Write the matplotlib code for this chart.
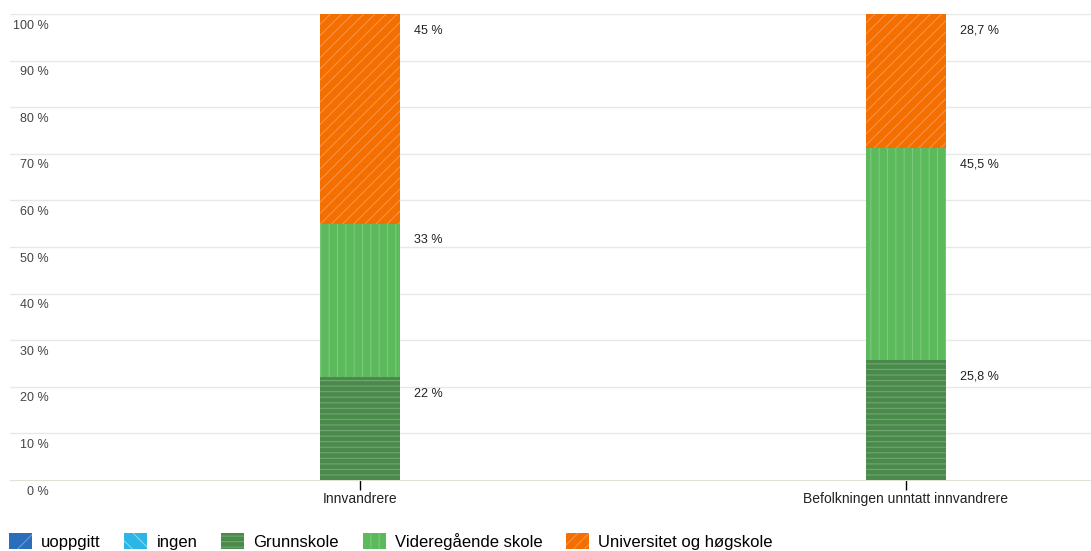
import matplotlib
matplotlib.use("Agg")
import matplotlib.pyplot as plt
from matplotlib.patches import Patch

plt.rcParams['font.family'] = ['Liberation Sans', 'DejaVu Sans']
plt.rcParams['hatch.linewidth'] = 0.8

# data
categories = ['Innvandrere', 'Befolkningen unntatt innvandrere']
series = ['uoppgitt', 'ingen', 'Grunnskole', 'Videregående skole', 'Universitet og høgskole']
values = {
    'uoppgitt': [0, 0],
    'ingen': [0, 0],
    'Grunnskole': [22, 25.8],
    'Videregående skole': [33, 45.5],
    'Universitet og høgskole': [45, 28.7],
}
labels = {
    'Grunnskole': ['22 %', '25,8 %'],
    'Videregående skole': ['33 %', '45,5 %'],
    'Universitet og høgskole': ['45 %', '28,7 %'],
}
yticks = [0, 10, 20, 30, 40, 50, 60, 70, 80, 90, 100]

# fill colour, hatch colour, hatch pattern
styles = {
    'uoppgitt': ('#2a6ebb', '#6b9bd2', '/'),
    'ingen': ('#2bb6e6', '#86d6f2', '\\\\'),
    'Grunnskole': ('#4a8a4b', '#72a572', '---'),
    'Videregående skole': ('#5cba5c', '#7cc87c', '||'),
    'Universitet og høgskole': ('#f46e00', '#f7934a', '///'),
}

W, H = 1091, 551
fig = plt.figure(figsize=(W / 100, H / 100), dpi=100)
ax = fig.add_axes([10 / W, 71 / H, 1081 / W, 466 / H])

x = [0, 1]
bottom = [0, 0]
for s in series:
    fc, hc, hatch = styles[s]
    v = values[s]
    bars = ax.bar(x, v, width=0.148, bottom=bottom, color=fc, edgecolor=hc,
                  hatch=hatch, linewidth=0, zorder=3)
    if s in labels:
        for i, b in enumerate(bars):
            top = bottom[i] + v[i]
            ax.annotate(labels[s][i], xy=(b.get_x() + b.get_width(), top),
                        xytext=(10, -12), textcoords='offset points',
                        ha='left', va='center', fontsize=9, color='#222222')
    bottom = [bottom[i] + v[i] for i in range(len(x))]

ax.set_xlim(-0.641, 1.339)
ax.set_ylim(0, 100)

for t in yticks:
    if t > 0:
        ax.axhline(t, color='#e8e8e8', linewidth=1, zorder=1)
    ax.annotate(f'{t} %', xy=(49 / W, t), xycoords=('figure fraction', 'data'),
                xytext=(0, -4), textcoords='offset points',
                ha='right', va='top', fontsize=9, color='#444444')

for sp in ['top', 'right', 'left']:
    ax.spines[sp].set_visible(False)
ax.spines['bottom'].set_color('#e3e0d8')
ax.set_yticks([])
ax.set_xticks(x)
ax.set_xticklabels(categories, fontsize=10, color='#222222')
ax.tick_params(axis='x', length=7, width=1, color='black', pad=1.5)

handles = [Patch(facecolor=styles[s][0], edgecolor=styles[s][1], hatch=styles[s][2],
                 linewidth=0, label=s) for s in series]
fig.legend(handles=handles, loc='lower left', bbox_to_anchor=(0.002, -0.01),
           ncol=5, frameon=False, fontsize=12, handlelength=1.38, handleheight=1.1,
           handletextpad=0.54, columnspacing=1.44, borderaxespad=0)

fig.savefig('out.png', dpi=100)
